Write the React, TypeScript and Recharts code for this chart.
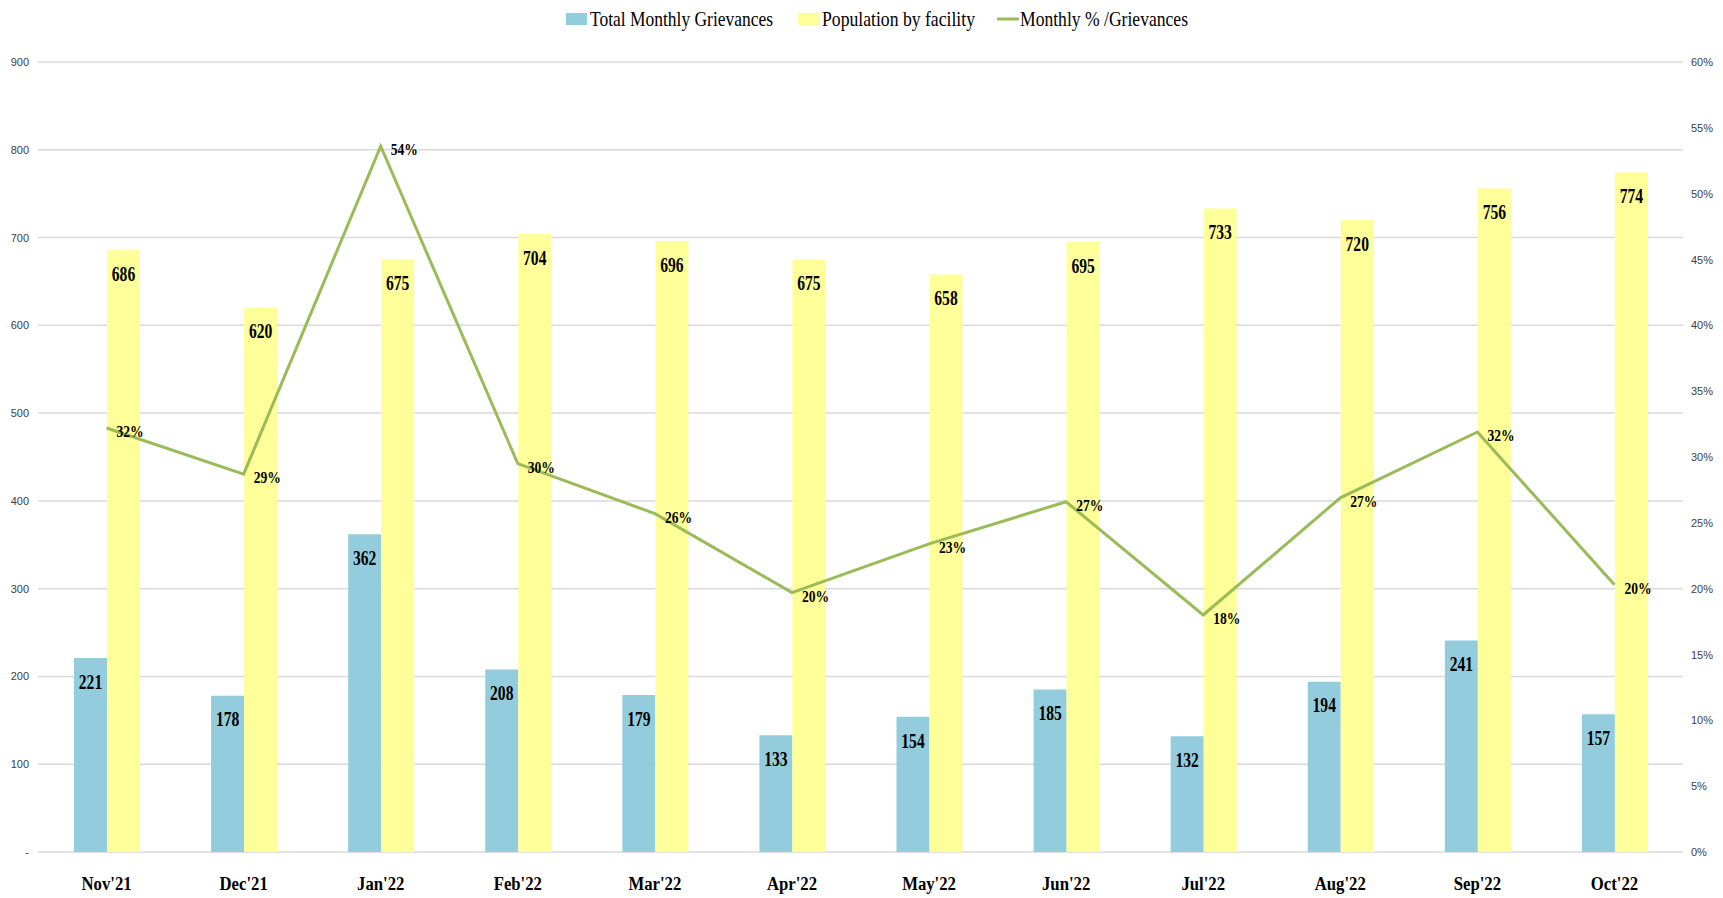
import React from 'react';
import {
  ComposedChart,
  Bar,
  Line,
  XAxis,
  YAxis,
  CartesianGrid,
  LabelList,
} from 'recharts';

const months = ["Nov'21", "Dec'21", "Jan'22", "Feb'22", "Mar'22", "Apr'22", "May'22", "Jun'22", "Jul'22", "Aug'22", "Sep'22", "Oct'22"];
const grievances = [221, 178, 362, 208, 179, 133, 154, 185, 132, 194, 241, 157];
const population = [686, 620, 675, 704, 696, 675, 658, 695, 733, 720, 756, 774];
const monthlyPct = [0.322, 0.287, 0.536, 0.295, 0.257, 0.197, 0.234, 0.266, 0.18, 0.269, 0.319, 0.203];
const leftTicks = [0, 100, 200, 300, 400, 500, 600, 700, 800, 900];
const rightTicks = [0, 0.05, 0.1, 0.15, 0.2, 0.25, 0.3, 0.35, 0.4, 0.45, 0.5, 0.55, 0.6];

const legendItems = [
  { label: 'Total Monthly Grievances', color: '#93CDDD', type: 'rect' },
  { label: 'Population by facility', color: '#FFFF99', type: 'rect' },
  { label: 'Monthly % /Grievances', color: '#9BBB59', type: 'line' },
];

const data = months.map((m, i) => ({
  month: m,
  grievances: grievances[i],
  population: population[i],
  pct: monthlyPct[i],
}));

const SERIF = '"Liberation Serif", "Times New Roman", serif';
const NARROW = '"Liberation Sans Narrow", "Arial Narrow", "Liberation Sans", sans-serif';

const BarValueLabel = (props: any) => {
  const { x, y, width, value } = props;
  const cx = Number(x) + Number(width) / 2;
  const cy = Number(y) + 24;
  return (
    <text
      transform={`translate(${cx} ${cy}) scale(0.78 1)`}
      textAnchor="middle"
      dominantBaseline="central"
      fontFamily={SERIF}
      fontWeight="bold"
      fontSize={20}
      fill="#000"
    >
      {value}
    </text>
  );
};

const PctLabel = (props: any) => {
  const { x, y, value } = props;
  return (
    <text
      transform={`translate(${Number(x) + 10} ${Number(y) + 3}) scale(0.8 1)`}
      textAnchor="start"
      dominantBaseline="central"
      fontFamily={SERIF}
      fontWeight="bold"
      fontSize={17}
      fill="#000"
    >
      {Math.round(Number(value) * 100) + '%'}
    </text>
  );
};

const MonthTick = (props: any) => {
  const { x, y, payload } = props;
  return (
    <text
      transform={`translate(${x} ${Number(y) + 24}) scale(0.88 1)`}
      textAnchor="middle"
      dominantBaseline="central"
      fontFamily={SERIF}
      fontWeight="bold"
      fontSize={19}
      fill="#000"
    >
      {payload.value}
    </text>
  );
};

const LeftTick = (props: any) => {
  const { x, y, payload } = props;
  return (
    <text
      x={Number(x) - 3}
      y={y}
      textAnchor="end"
      dominantBaseline="central"
      fontFamily={NARROW}
      fontSize={11}
      fill="#404040"
    >
      {payload.value === 0 ? '-' : payload.value}
    </text>
  );
};

const RightTick = (props: any) => {
  const { x, y, payload } = props;
  return (
    <text
      x={Number(x) + 2}
      y={y}
      textAnchor="start"
      dominantBaseline="central"
      fontFamily={NARROW}
      fontSize={11}
      fill="#404040"
    >
      {Math.round(payload.value * 100) + '%'}
    </text>
  );
};

const legendPos = [
  { box: 566, text: 590, width: 183 },
  { box: 798, text: 822, width: 153 },
  { box: 997, text: 1020, width: 168 },
];

const LegendOverlay = () => (
  <svg width={1723} height={40} style={{ position: 'absolute', left: 0, top: 0 }}>
    {legendItems.map((it, i) => (
      <g key={it.label}>
        {it.type === 'rect' ? (
          <rect x={legendPos[i].box} y={13} width={21} height={12} fill={it.color} />
        ) : (
          <line x1={legendPos[i].box} x2={legendPos[i].box + 22} y1={19} y2={19} stroke={it.color} strokeWidth={3} />
        )}
        <text
          x={legendPos[i].text}
          y={26}
          textLength={legendPos[i].width}
          lengthAdjust="spacingAndGlyphs"
          fontFamily={SERIF}
          fontSize={21}
          fill="#000"
        >
          {it.label}
        </text>
      </g>
    ))}
  </svg>
);

export default function App() {
  return (
    <div style={{ position: 'absolute', left: 0, top: 0, width: 1723, height: 898, background: '#fff' }}>
      <ComposedChart
        width={1723}
        height={898}
        data={data}
        margin={{ top: 62, right: 0, left: 8, bottom: 6 }}
        barGap={0}
      >
        <CartesianGrid yAxisId="left" vertical={false} stroke="#D9D9D9" strokeWidth={1.5} />
        <XAxis
          dataKey="month"
          height={40}
          axisLine={false}
          tickLine={false}
          tick={<MonthTick />}
          interval={0}
        />
        <YAxis
          yAxisId="left"
          orientation="left"
          width={30}
          domain={[0, 900]}
          ticks={leftTicks}
          axisLine={false}
          tickLine={false}
          tick={<LeftTick />}
          tickMargin={0}
          interval={0}
        />
        <YAxis
          yAxisId="right"
          orientation="right"
          width={40}
          domain={[0, 0.6]}
          ticks={rightTicks}
          axisLine={false}
          tickLine={false}
          tick={<RightTick />}
          tickMargin={0}
          interval={0}
        />
        <Bar yAxisId="left" dataKey="grievances" fill="#93CDDD" barSize={33} isAnimationActive={false}>
          <LabelList dataKey="grievances" content={<BarValueLabel />} />
        </Bar>
        <Bar yAxisId="left" dataKey="population" fill="#FFFF99" barSize={33} isAnimationActive={false}>
          <LabelList dataKey="population" content={<BarValueLabel />} />
        </Bar>
        <Line
          yAxisId="right"
          type="linear"
          dataKey="pct"
          stroke="#9BBB59"
          strokeWidth={3}
          dot={false}
          activeDot={false}
          isAnimationActive={false}
        >
          <LabelList dataKey="pct" content={<PctLabel />} />
        </Line>
      </ComposedChart>
      <LegendOverlay />
    </div>
  );
}
